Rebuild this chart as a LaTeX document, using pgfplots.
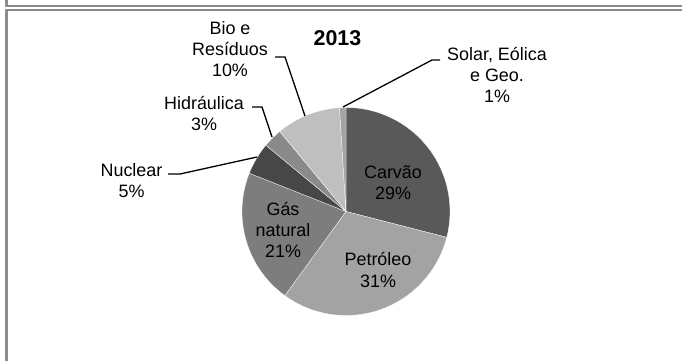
\documentclass[border=0pt]{standalone}
\usepackage{pgfplots}
\usepackage{pgfplotstable}
\pgfplotsset{compat=1.18}
\usepackage{fontspec}
\setmainfont{Liberation Sans}
\definecolor{slice0}{HTML}{595959}
\definecolor{slice1}{HTML}{A3A3A3}
\definecolor{slice2}{HTML}{7D7D7D}
\definecolor{slice3}{HTML}{474747}
\definecolor{slice4}{HTML}{8A8A8A}
\definecolor{slice5}{HTML}{BFBFBF}
\definecolor{slice6}{HTML}{A3A3A3}
\definecolor{framegray}{HTML}{8C8C8C}
% shares in percent, clockwise from 12 o'clock
\pgfplotstableread{
idx share
0 29
1 31
2 21
3 5
4 3
5 10
6 1
}\piedata
\def\cum{90}%
\pgfplotsforeachungrouped \i in {0,...,6}{%
  \pgfplotstablegetelem{\i}{share}\of\piedata
  \pgfmathsetmacro\nxt{\cum-3.6*\pgfplotsretval}%
  \expandafter\xdef\csname start\i\endcsname{\cum}%
  \expandafter\xdef\csname end\i\endcsname{\nxt}%
  \global\let\cum\nxt
}%
\begin{document}
\begin{tikzpicture}
\begin{axis}[width=682bp, height=361bp, scale only axis,
  xmin=0, xmax=682, ymin=0, ymax=361, y dir=reverse,
  axis lines=none, clip=false]
\path[use as bounding box] (axis cs:0,0) rectangle (axis cs:682,361);
% frames
\draw[framegray, line width=2.2bp] (axis cs:6.5,0) -- (axis cs:6.5,6) -- (axis cs:682,6);
\draw[framegray, line width=2.2bp] (axis cs:682,10) -- (axis cs:6.5,10) -- (axis cs:6.5,361);
% pie slices
\pgfplotsinvokeforeach{0,...,6}{
  \fill[fill=slice#1, draw=white, line width=0.3bp]
    (axis cs:346,211.5) -- ++(\csname start#1\endcsname:104bp)
    arc[start angle=\csname start#1\endcsname, end angle=\csname end#1\endcsname, radius=104bp] -- cycle;
}
% title
\node[font=\bfseries\fontsize{21.5}{24}\selectfont] at (axis cs:337.5,38.5) {2013};
% leader lines
\draw[black, line width=1.3bp] (axis cs:343,107) -- (axis cs:432,60) -- (axis cs:440,60);
\draw[black, line width=1.3bp] (axis cs:275,57) -- (axis cs:285,57) -- (axis cs:305,116);
\draw[black, line width=1.3bp] (axis cs:252,107) -- (axis cs:262,107) -- (axis cs:272,137);
\draw[black, line width=1.3bp] (axis cs:168,174) -- (axis cs:180,174) -- (axis cs:257,157);
% labels
\begin{scope}[every node/.style={align=center, font=\fontsize{18}{21.3}\selectfont, inner sep=0pt}]
\node at (axis cs:497,75) {Solar, Eólica\\e Geo.\\1\%};
\node at (axis cs:230,49) {Bio e\\Resíduos\\10\%};
\node at (axis cs:204,113.5) {Hidráulica\\3\%};
\node at (axis cs:131.5,180.5) {Nuclear\\5\%};
\node at (axis cs:393,182.5) {Carvão\\29\%};
\node at (axis cs:378,270) {Petróleo\\31\%};
\node at (axis cs:283,230) {Gás\\natural\\21\%};
\end{scope}
\end{axis}
\end{tikzpicture}
\end{document}
